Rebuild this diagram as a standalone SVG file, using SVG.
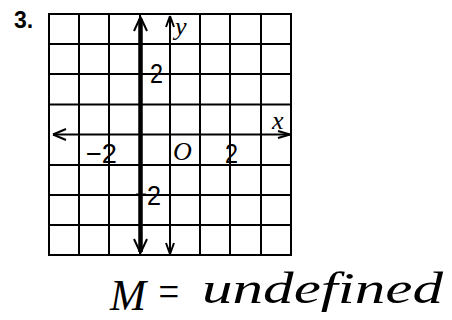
<svg xmlns="http://www.w3.org/2000/svg" width="452" height="320" viewBox="0 0 452 320">
<style>
.g{stroke:#000;stroke-width:2;fill:none}
.ax{stroke:#000;stroke-width:2;fill:none}
.thick{stroke:#000;stroke-width:4.5;fill:none}
.lbl{font-family:"Liberation Sans",Arial,sans-serif;font-size:27px;fill:#000}
.it{font-family:"Liberation Serif","Times New Roman",serif;font-style:italic;font-size:26px;fill:#000}
.hw{font-family:"Liberation Serif","Times New Roman",serif;font-style:italic;font-size:44px;fill:#000}
</style>
<rect width="452" height="320" fill="#fff"/>
<g id="number">
<text x="14" y="28" font-family="Liberation Sans,Arial,sans-serif" font-weight="bold" font-size="23">3.</text>
</g>
<g id="grid">
<rect x="49" y="14" width="242" height="241" class="g" stroke-width="2.5"/>
<path class="g" d="M79,14V255M109,14V255M140,14V255M200,14V255M230,14V255M261,14V255"/>
<path class="g" d="M49,44H291M49,74H291M49,104.5H291M49,165H291M49,195H291M49,225H291"/>
</g>
<g id="axes">
<path class="ax" d="M53,134.5H290"/>
<path class="ax" d="M53,134.5L66,129M53,134.5L66,140"/>
<path class="ax" d="M290,134.5L278,131M290,134.5L278,138"/>
<path class="ax" d="M170,16V254"/>
<path class="ax" d="M170,16L166,27M170,16L174,27"/>
<path class="ax" d="M170,254L166,243M170,254L174,243"/>
<path d="M136,194.5H146" class="ax"/>
</g>
<g id="line">
<path class="thick" d="M140.5,19V252"/>
<path class="ax" stroke-width="3" d="M140.5,17L134,31M140.5,17L147,31"/>
<path class="ax" stroke-width="3" d="M140.5,253L134,239M140.5,253L147,239"/>
</g>
<g id="labels">
<text class="it" x="175" y="35">y</text>
<text class="it" x="272" y="129">x</text>
<text class="lbl" x="150" y="83" textLength="13" lengthAdjust="spacingAndGlyphs">2</text>
<text class="lbl" x="147" y="205" textLength="14" lengthAdjust="spacingAndGlyphs">2</text>
<text class="lbl" x="86" y="163" textLength="31" lengthAdjust="spacingAndGlyphs">−2</text>
<text class="lbl" x="225" y="163" textLength="13" lengthAdjust="spacingAndGlyphs">2</text>
<text class="it" x="173" y="160" font-size="22">O</text>
</g>
<g id="answer">
<text class="hw" x="110" y="310" textLength="36" lengthAdjust="spacingAndGlyphs">M</text>
<text class="hw" x="156" y="306" font-size="52" textLength="25" lengthAdjust="spacingAndGlyphs">=</text>
<text class="hw" x="202" y="303" textLength="241" lengthAdjust="spacingAndGlyphs">undefined</text>
</g>
</svg>
